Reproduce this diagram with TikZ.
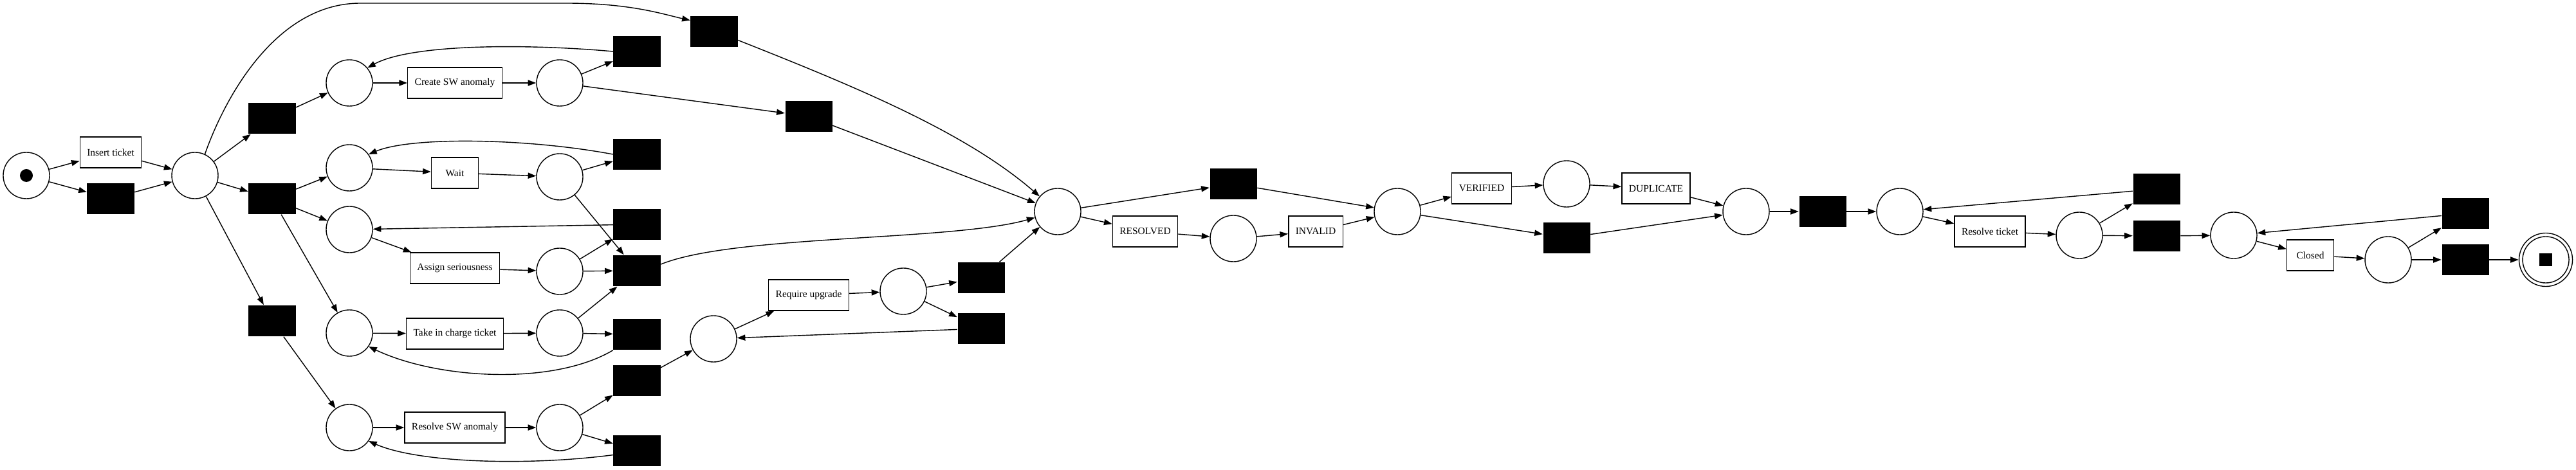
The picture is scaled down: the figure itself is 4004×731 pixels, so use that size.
\documentclass[tikz,border=0pt]{standalone}
\usepackage{fontspec}
\setmainfont{Liberation Serif}
\usetikzlibrary{arrows.meta}

\begin{document}
\begin{tikzpicture}[x=0.01cm, y=-0.01cm, >={Triangle[length=3.6pt,width=2.6pt]},
    place/.style={draw, circle, minimum size=0.72cm, inner sep=0pt},
    task/.style={draw, rectangle, minimum width=0.73cm, minimum height=0.48cm, inner xsep=0.11cm, inner ysep=0pt, font=\fontsize{4.4}{5}\selectfont},
    silent/.style={fill=black, rectangle, minimum width=0.73cm, minimum height=0.48cm, inner sep=0pt}]
        \useasboundingbox (0,0) rectangle (4004,731);

        % start and first split
        \node[place] (source) at (41,273) {};
        \fill (source) circle (0.1cm);
        \node[task] (tInsert) at (172,237) {Insert ticket};
        \node[silent] (tSkip) at (172,309) {};
        \node[place] (pSplit) at (303,273) {};
        \node[silent] (tTop) at (1110,49) {};
        \node[silent] (tCreateIn) at (423,184) {};
        \node[silent] (tFork) at (423,309) {};
        \node[silent] (tResIn) at (423,499) {};

        % branches
        \node[place] (pCreate) at (543,129) {};
        \node[task] (tCreate) at (707,129) {Create SW anomaly};
        \node[place] (pCreated) at (870,129) {};
        \node[silent] (tCreateLoop) at (990,80) {};
        \node[silent] (tCreateOut) at (1257,181) {};

        \node[place] (pWait) at (543,261) {};
        \node[task] (tWait) at (707,269) {Wait};
        \node[place] (pWaited) at (870,275) {};
        \node[silent] (tWaitLoop) at (990,240) {};

        \node[place] (pAssign) at (543,357) {};
        \node[task] (tAssign) at (707,417) {Assign seriousness};
        \node[place] (pAssigned) at (870,422) {};
        \node[silent] (tAssignLoop) at (990,349) {};
        \node[silent] (tJoin) at (990,421) {};

        \node[place] (pTake) at (543,518) {};
        \node[task] (tTake) at (707,519) {Take in charge ticket};
        \node[place] (pTaken) at (870,518) {};
        \node[silent] (tTakeLoop) at (990,520) {};

        \node[place] (pResSW) at (543,665) {};
        \node[task] (tResSW) at (707,665) {Resolve SW anomaly};
        \node[place] (pResSWd) at (870,665) {};
        \node[silent] (tResSWUp) at (990,592) {};
        \node[silent] (tResSWLoop) at (990,701) {};

        \node[place] (pUpg) at (1109,527) {};
        \node[task] (tUpg) at (1257,459) {Require upgrade};
        \node[place] (pUpgd) at (1404,453) {};
        \node[silent] (tUpgOut) at (1525,432) {};
        \node[silent] (tUpgLoop) at (1525,511) {};

        % resolution and closing
        \node[place] (pMerge) at (1644,329) {};
        \node[silent] (tSkipRes) at (1917,286) {};
        \node[task] (tResolved) at (1780,360) {RESOLVED};
        \node[place] (pResolved) at (1917,371) {};
        \node[task] (tInvalid) at (2045,360) {INVALID};
        \node[place] (pCheck) at (2172,329) {};
        \node[task] (tVerified) at (2303,293) {VERIFIED};
        \node[place] (pVer) at (2435,286) {};
        \node[silent] (tSkipVer) at (2435,370) {};
        \node[task] (tDuplicate) at (2574,293) {DUPLICATE};
        \node[place] (pDup) at (2714,329) {};
        \node[silent] (tDupOut) at (2833,329) {};
        \node[place] (pTicket) at (2953,329) {};
        \node[task] (tResolveTicket) at (3093,360) {Resolve ticket};
        \node[place] (pTicketDone) at (3232,366) {};
        \node[silent] (tTicketLoop) at (3352,294) {};
        \node[silent] (tTicketOut) at (3352,367) {};
        \node[place] (pClose) at (3472,366) {};
        \node[task] (tClosed) at (3591,397) {Closed};
        \node[place] (pClosed) at (3712,404) {};
        \node[silent] (tCloseLoop) at (3832,332) {};
        \node[silent] (tCloseOut) at (3832,404) {};
        \node[draw, circle, minimum size=0.83cm, inner sep=0pt] (sink) at (3957,404) {};
        \draw (sink) circle (0.36cm);
        \fill (sink) +(-10,-10) rectangle +(10,10);

        % arcs
        \draw[->] (source) -- (tInsert);
        \draw[->] (source) -- (tSkip);
        \draw[->] (tInsert) -- (pSplit);
        \draw[->] (tSkip) -- (pSplit);
        \draw[->] (pSplit.65) .. controls (350,150) and (430,5) .. (560,5) -- (880,5) .. controls (980,5) and (1030,22) .. (tTop.155);
        \draw[->] (pSplit) -- (tCreateIn);
        \draw[->] (pSplit) -- (tFork);
        \draw[->] (pSplit) -- (tResIn);
        \draw[->] (tCreateIn) -- (pCreate);
        \draw[->] (tFork) -- (pWait);
        \draw[->] (tFork) -- (pAssign);
        \draw[->] (tFork) -- (pTake);
        \draw[->] (tResIn) -- (pResSW);

        \draw[->] (pCreate) -- (tCreate);
        \draw[->] (tCreate) -- (pCreated);
        \draw[->] (pCreated) -- (tCreateLoop);
        \draw[->] (pCreated) -- (tCreateOut);
        \draw[->] (tCreateLoop.west) .. controls (820,68) and (640,68) .. (pCreate.40);

        \draw[->] (pWait) -- (tWait);
        \draw[->] (tWait) -- (pWaited);
        \draw[->] (pWaited) -- (tWaitLoop);
        \draw[->] (pWaited) -- (tJoin);
        \draw[->] (tWaitLoop.west) .. controls (820,215) and (640,212) .. (pWait.35);

        \draw[->] (pAssign) -- (tAssign);
        \draw[->] (tAssign) -- (pAssigned);
        \draw[->] (pAssigned) -- (tAssignLoop);
        \draw[->] (pAssigned) -- (tJoin);
        \draw[->] (tAssignLoop) -- (pAssign);

        \draw[->] (pTake) -- (tTake);
        \draw[->] (tTake) -- (pTaken);
        \draw[->] (pTaken) -- (tJoin);
        \draw[->] (pTaken) -- (tTakeLoop);
        \draw[->] (tTakeLoop.south west) .. controls (860,600) and (680,590) .. (pTake.-35);

        \draw[->] (pResSW) -- (tResSW);
        \draw[->] (tResSW) -- (pResSWd);
        \draw[->] (pResSWd) -- (tResSWUp);
        \draw[->] (pResSWd) -- (tResSWLoop);
        \draw[->] (tResSWLoop.190) .. controls (820,725) and (650,720) .. (pResSW.-35);
        \draw[->] (tResSWUp) -- (pUpg);

        \draw[->] (pUpg) -- (tUpg);
        \draw[->] (tUpg) -- (pUpgd);
        \draw[->] (pUpgd) -- (tUpgOut);
        \draw[->] (pUpgd) -- (tUpgLoop);
        \draw[->] (tUpgLoop) -- (pUpg);

        \draw[->] (tTop.-20) .. controls (1330,135) and (1500,205) .. (pMerge.140);
        \draw[->] (tCreateOut) -- (pMerge);
        \draw[->] (tJoin.15) .. controls (1140,365) and (1480,375) .. (pMerge.195);
        \draw[->] (tUpgOut) -- (pMerge);

        \draw[->] (pMerge) -- (tSkipRes);
        \draw[->] (pMerge) -- (tResolved);
        \draw[->] (tResolved) -- (pResolved);
        \draw[->] (pResolved) -- (tInvalid);
        \draw[->] (tInvalid) -- (pCheck);
        \draw[->] (tSkipRes) -- (pCheck);
        \draw[->] (pCheck) -- (tVerified);
        \draw[->] (pCheck) -- (tSkipVer);
        \draw[->] (tVerified) -- (pVer);
        \draw[->] (pVer) -- (tDuplicate);
        \draw[->] (tDuplicate) -- (pDup);
        \draw[->] (tSkipVer) -- (pDup);
        \draw[->] (pDup) -- (tDupOut);
        \draw[->] (tDupOut) -- (pTicket);
        \draw[->] (pTicket) -- (tResolveTicket);
        \draw[->] (tResolveTicket) -- (pTicketDone);
        \draw[->] (pTicketDone) -- (tTicketLoop);
        \draw[->] (pTicketDone) -- (tTicketOut);
        \draw[->] (tTicketLoop) -- (pTicket);
        \draw[->] (tTicketOut) -- (pClose);
        \draw[->] (pClose) -- (tClosed);
        \draw[->] (tClosed) -- (pClosed);
        \draw[->] (pClosed) -- (tCloseLoop);
        \draw[->] (pClosed) -- (tCloseOut);
        \draw[->] (tCloseLoop) -- (pClose);
        \draw[->] (tCloseOut) -- (sink);
\end{tikzpicture}
\end{document}
